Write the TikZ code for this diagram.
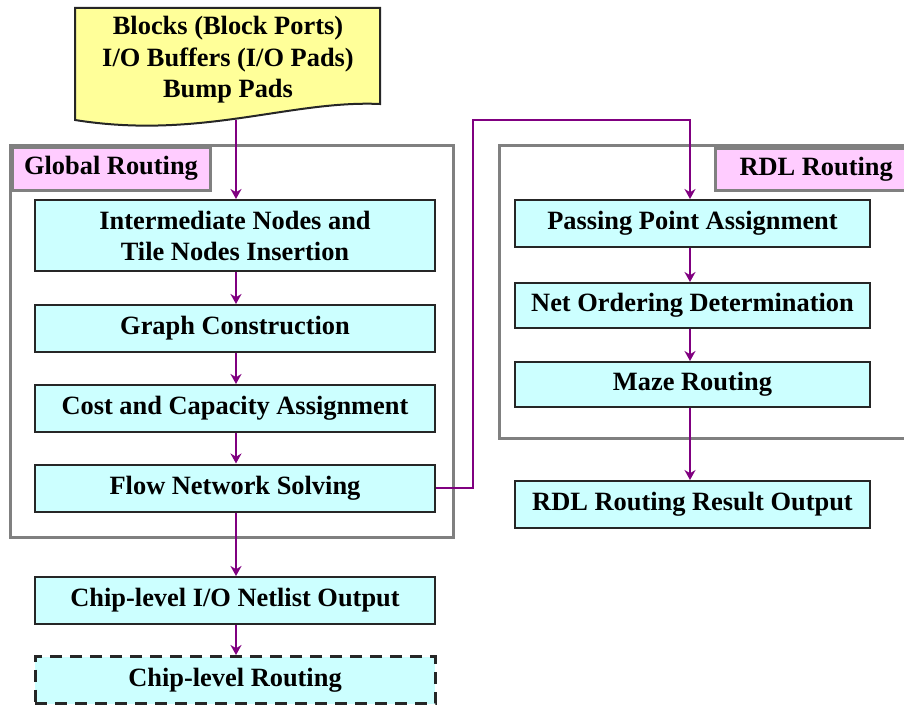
\documentclass[tikz,border=0pt]{standalone}
\usepackage{fontspec}
\setmainfont{Liberation Serif}
\usetikzlibrary{arrows.meta}
\definecolor{stepcyan}{HTML}{CCFFFF}
\definecolor{tagpink}{HTML}{FFCCFF}
\definecolor{docyellow}{HTML}{FFFF99}
\definecolor{flowpurple}{HTML}{800080}
\tikzset{
  stepbox/.style={draw=black!85, fill=stepcyan, line width=1pt, minimum width=200pt,
    minimum height=23.5pt, inner sep=0pt, align=center,
    font=\fontsize{13.2}{15.5}\selectfont\bfseries},
  tagbox/.style={draw=gray, fill=tagpink, line width=1.5pt, inner sep=0pt,
    font=\fontsize{13.2}{15.5}\selectfont\bfseries},
  group/.style={draw=gray, line width=1.5pt},
  flow/.style={draw=flowpurple, line width=1.2pt, -{Stealth[length=5pt,width=5.5pt]}},
}
\begin{document}
\begin{tikzpicture}[x=0.5pt, y=-0.5pt, line cap=butt, line join=miter]
  \useasboundingbox (0,0) rectangle (904,706);
  % input document
  \draw[fill=docyellow, line width=1pt, draw=black!85]
    (75,8) -- (380,8) -- (380,104) .. controls (290,100) and (200,140) .. (75,120) -- cycle;
  \node[align=center, font=\fontsize{13.2}{15.75}\selectfont\bfseries] (src) at (228,60)
    {Blocks (Block Ports)\\I/O Buffers (I/O Pads)\\Bump Pads};
  \coordinate (srcbot) at (236,120);
  % group frames
  \draw[group] (10,145) rectangle (453,537);
  \draw[group] (499,145) rectangle (920,438);
  \node[tagbox, minimum width=99pt, minimum height=21.5pt] (gtag) at (111,168.5) {Global Routing};
  \node[tagbox, anchor=north west, minimum height=21pt, inner xsep=12pt, text width=95pt, align=flush left]
    (rtag) at (714,147) {RDL Routing};
  % global routing steps
  \node[stepbox, minimum height=35.5pt] (ins) at (235,235.5) {Intermediate Nodes and\\Tile Nodes Insertion};
  \node[stepbox] (graph) at (235,328.5) {Graph Construction};
  \node[stepbox] (cost) at (235,408.5) {Cost and Capacity Assignment};
  \node[stepbox] (solve) at (235,488) {Flow Network Solving};
  \node[stepbox] (netlist) at (235,600.5) {Chip-level I/O Netlist Output};
  \node[stepbox, dashed, line width=1.5pt, dash pattern=on 6pt off 4pt] (chip) at (235,680) {Chip-level Routing};
  % rdl routing steps
  \node[stepbox, minimum width=177.5pt] (pass) at (692.5,223.5) {Passing Point Assignment};
  \node[stepbox, minimum width=177.5pt, minimum height=22.5pt] (order) at (692.5,305.5) {Net Ordering Determination};
  \node[stepbox, minimum width=177.5pt, minimum height=22.5pt] (maze) at (692.5,384.5) {Maze Routing};
  \node[stepbox, minimum width=177.5pt] (result) at (692.5,504.5) {RDL Routing Result Output};
  % connectors
  \draw[flow] (srcbot) -- (srcbot |- ins.north);
  \foreach \a/\b in {ins/graph, graph/cost, cost/solve, solve/netlist, netlist/chip}
    \draw[flow] (\a.south -| srcbot) -- (\b.north -| srcbot);
  \coordinate (rx) at (690,0);
  \foreach \a/\b in {pass/order, order/maze, maze/result}
    \draw[flow] (\a.south -| rx) -- (\b.north -| rx);
  \draw[flow] (solve.east) -| (473,120) -| (pass.north -| rx);
\end{tikzpicture}
\end{document}
